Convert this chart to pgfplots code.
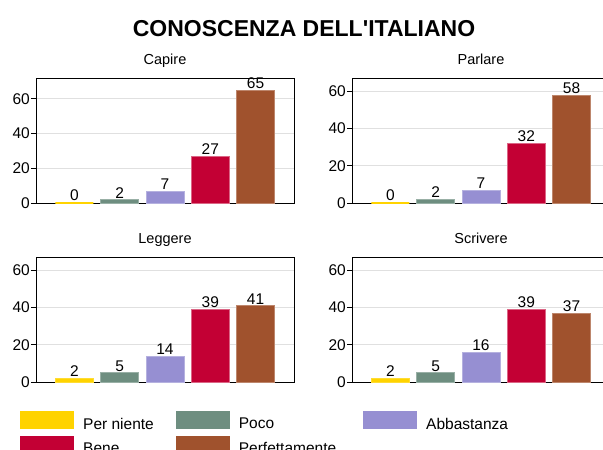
\documentclass[border=0pt]{standalone}
\usepackage{pgfplots}
\pgfplotsset{compat=1.18}
\usepackage{fontspec}
\setmainfont{Liberation Sans}

\definecolor{cNiente}{RGB}{255,211,0}
\definecolor{cPoco}{RGB}{110,142,128}
\definecolor{cAbb}{RGB}{150,143,210}
\definecolor{cBene}{RGB}{195,0,52}
\definecolor{cPerf}{RGB}{160,82,45}

\newcommand{\fs}{\fontsize{15.5}{18}\selectfont}

\pgfplotsset{
  ybar legend/.style={legend image code/.code={\fill[##1,draw=none] (0pt,-5pt) rectangle (54pt,13pt);}},
  panel/.style={
    scale only axis, width=258pt, height=125pt,
    xmin=-0.85, xmax=4.85, ymin=0,
    ytick={0,20,40,60}, xtick=\empty, ytick pos=left,
    ymajorgrids, grid style={draw=black!12, line width=0.8pt},
    axis line style={black, line width=0.8pt},
    tick align=outside, major tick length=5pt,
    tick style={black, line width=0.8pt},
    yticklabel style={font=\fs, inner xsep=1pt},
    /pgf/number format/assume math mode=true,
    ybar, bar width=38pt, bar shift=0pt,
    nodes near coords,
    nodes near coords style={font=\fs, black, inner sep=1pt},
    title style={font=\fontsize{14.5}{17}\selectfont, at={(0.5,1)}, anchor=base, yshift=8pt},
    clip=false,
  },
  nie/.style={fill=cNiente, draw=cNiente!80!white, line width=0.8pt},
  zer/.style={fill=cNiente, draw=cNiente, line width=2.2pt},
  poc/.style={fill=cPoco, draw=cPoco!70!white, line width=0.6pt},
  abb/.style={fill=cAbb, draw=cAbb!70!white, line width=0.6pt},
  ben/.style={fill=cBene, draw=cBene!60!white, line width=0.6pt},
  per/.style={fill=cPerf, draw=cPerf!70!white, line width=0.6pt},
}

\begin{document}
\begin{tikzpicture}
\node[anchor=base, font=\bfseries\fontsize{23}{27}\selectfont] at (304pt,-36.5pt) {CONOSCENZA DELL\textquotesingle ITALIANO};

% Capire
\begin{axis}[panel, at={(36pt,-203pt)}, anchor=south west, ymax=72, title={Capire}]
  \addplot[zer] coordinates {(0,0)};
  \addplot[poc] coordinates {(1,2)};
  \addplot[abb] coordinates {(2,7)};
  \addplot[ben] coordinates {(3,27)};
  \addplot[per] coordinates {(4,65)};
\end{axis}

% Parlare
\begin{axis}[panel, at={(352pt,-203pt)}, anchor=south west, ymax=67, title={Parlare}]
  \addplot[zer] coordinates {(0,0)};
  \addplot[poc] coordinates {(1,2)};
  \addplot[abb] coordinates {(2,7)};
  \addplot[ben] coordinates {(3,32)};
  \addplot[per] coordinates {(4,58)};
\end{axis}

% Leggere
\begin{axis}[panel, at={(36pt,-382pt)}, anchor=south west, ymax=67, title={Leggere},
  legend columns=3,
  legend style={at={(-0.062,-0.232)}, anchor=north west, draw=none, inner sep=0pt,
    font=\fs, legend cell align=left, row sep=5pt,
    nodes={inner sep=0pt},
    /tikz/every odd column/.append style={column sep=9pt},
    /tikz/every even column/.append style={column sep=22pt}}]
  \addplot[nie] coordinates {(0,2)};
  \addplot[poc] coordinates {(1,5)};
  \addplot[abb] coordinates {(2,14)};
  \addplot[ben] coordinates {(3,39)};
  \addplot[per] coordinates {(4,41)};
  \legend{Per niente, Poco, Abbastanza, Bene, Perfettamente\hspace*{5pt}}
\end{axis}

% Scrivere
\begin{axis}[panel, at={(352pt,-382pt)}, anchor=south west, ymax=67, title={Scrivere}]
  \addplot[nie] coordinates {(0,2)};
  \addplot[poc] coordinates {(1,5)};
  \addplot[abb] coordinates {(2,16)};
  \addplot[ben] coordinates {(3,39)};
  \addplot[per] coordinates {(4,37)};
\end{axis}

\pgfresetboundingbox
\path (0pt,0pt) rectangle (603pt,-450pt);
\end{tikzpicture}
\end{document}
